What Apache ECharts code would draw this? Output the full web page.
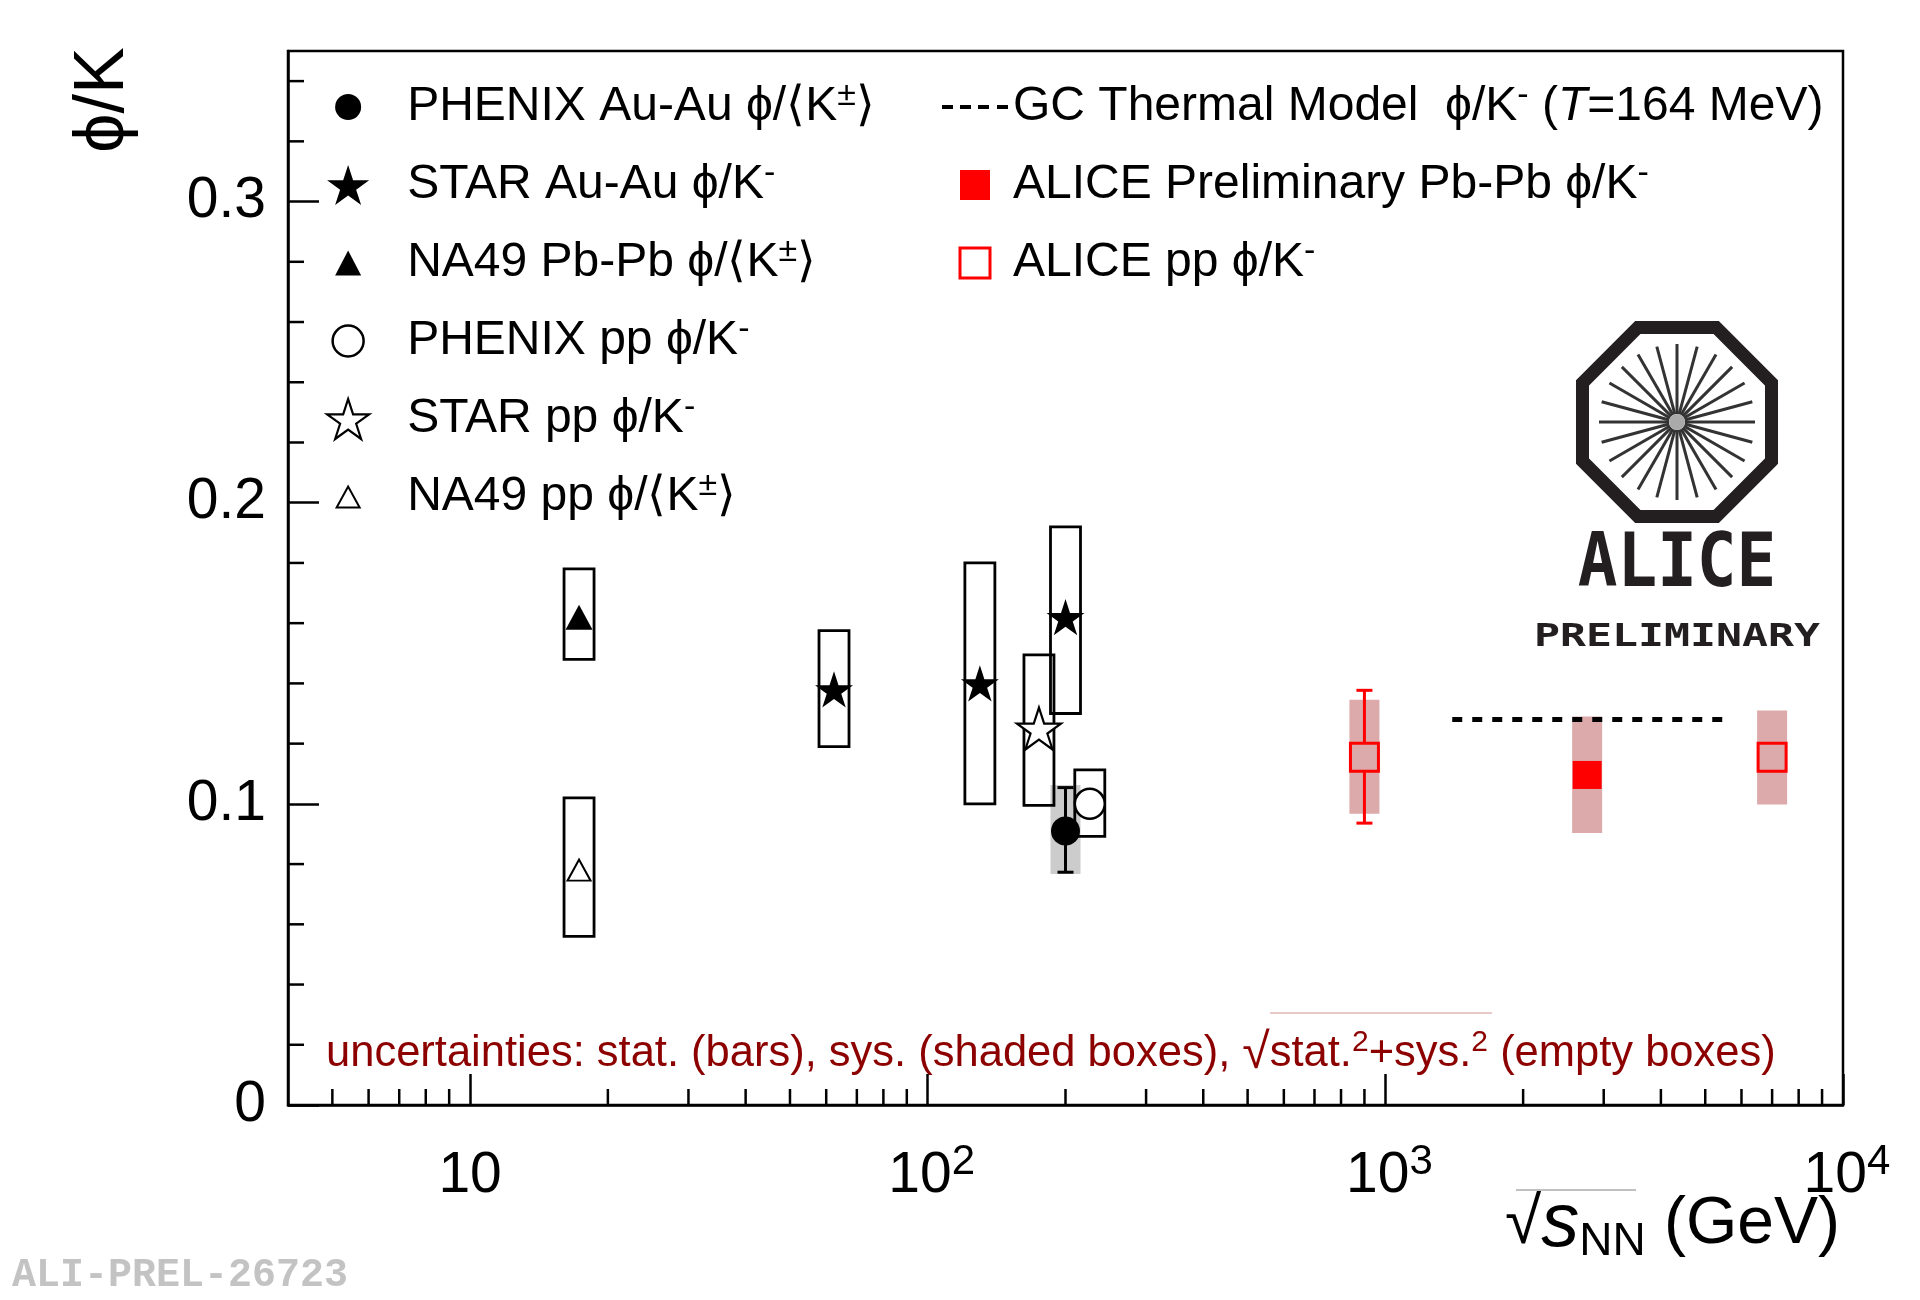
<!DOCTYPE html>
<html lang="en">
<head>
<meta charset="UTF-8">
<title>phi/K vs sqrt(s_NN)</title>
<script src="https://cdn.jsdelivr.net/npm/echarts@6.0.0/dist/echarts.min.js"></script>
<style>
    html, body { margin: 0; padding: 0; background: #fff; }
    #chart { width: 1920px; height: 1300px; }
</style>
</head>
<body>
<div id="chart"></div>
<script type="text/javascript">
    // values: x = sqrt(s_NN) in GeV, y = phi/K
    var na49PbPbX = [17.3];
    var na49PbPbY = [0.162];
    var na49PbPbSys = [[0.148, 0.178]];

    var na49ppX = [17.3];
    var na49ppY = [0.078];
    var na49ppSys = [[0.056, 0.102]];

    var starAuAuX = [62.4, 130, 200];
    var starAuAuY = [0.138, 0.140, 0.162];
    var starAuAuSys = [[0.119, 0.1575], [0.100, 0.180], [0.130, 0.192]];

    var starppX = [175];
    var starppY = [0.125];
    var starppSys = [[0.0995, 0.1495]];

    var phenixAuAuX = [200];
    var phenixAuAuY = [0.091];
    var phenixAuAuStat = [[0.0773, 0.1054]];
    var phenixAuAuSys = [[0.0767, 0.1063]];

    var phenixppX = [226];
    var phenixppY = [0.100];
    var phenixppSys = [[0.0892, 0.1113]];

    var alicePbPbX = [2760];
    var alicePbPbY = [0.1096];
    var alicePbPbSys = [[0.0903, 0.129]];

    var aliceppX = [900, 7000];
    var aliceppY = [0.1155, 0.1155];
    var aliceppSys = [[0.0967, 0.1346], [0.0998, 0.131]];
    var aliceppStatX = [900];
    var aliceppStatY = [0.1155];
    var aliceppStat = [[0.0936, 0.1377]];

    var thermalX = [1400, 5500];
    var thermalY = [0.128, 0.128];

    // minor tick positions
    var xMinorTicks = [5, 6, 7, 8, 9, 20, 30, 40, 50, 60, 70, 80, 90,
        200, 300, 400, 500, 600, 700, 800, 900, 2000, 3000, 4000, 5000, 6000, 7000, 8000, 9000];
    var yMinorTicks = [0.02, 0.04, 0.06, 0.08, 0.12, 0.14, 0.16, 0.18,
        0.22, 0.24, 0.26, 0.28, 0.32, 0.34];

    var FONT = '"Liberation Sans", Arial, Helvetica, sans-serif';
    var STAR = 'path://M50,0L61.23,34.55L97.55,34.55L68.16,55.9L79.39,90.45L50,69.1L20.61,90.45L31.84,55.9L2.45,34.55L38.77,34.55Z';
    var DASH = 'path://M0,0h11v4h-11zM18,0h11v4h-11zM36,0h11v4h-11zM55,0h11v4h-11z';
    // legend icons drawn inside a 40x40 box so they keep their own size
    var ICON_DOT = 'path://M0,0M40,40M7,20A13,13 0 1,1 33,20A13,13 0 1,1 7,20Z';
    var ICON_RING = 'path://M0,0M40,40M4.5,20A15.5,15.5 0 1,1 35.5,20A15.5,15.5 0 1,1 4.5,20Z';
    var ICON_TRI = 'path://M0,0M40,40M7,32.5L20,7.5L33,32.5Z';
    var ICON_TRI_SMALL = 'path://M0,0M40,40M8.5,30.5L20,9.5L31.5,30.5Z';
    var ICON_SQ = 'path://M0,0h28v28h-28z';

    function pts(xs, ys) {
        return xs.map(function (x, i) { return [x, ys[i]]; });
    }
    function boxes(xs, ranges) {
        return xs.map(function (x, i) { return [x, ranges[i][0], ranges[i][1]]; });
    }
    function bars(xs, ys, ranges) {
        return xs.map(function (x, i) { return [x, ys[i], ranges[i][0], ranges[i][1]]; });
    }

    function boxRender(fill, stroke, lw) {
        return function (params, api) {
            var top = api.coord([api.value(0), api.value(2)]);
            var bot = api.coord([api.value(0), api.value(1)]);
            return {
                type: 'rect',
                shape: {x: top[0] - 15, y: top[1], width: 30, height: bot[1] - top[1]},
                style: {fill: fill, stroke: stroke, lineWidth: lw}
            };
        };
    }
    function errRender(color, gap) {
        return function (params, api) {
            var c = api.coord([api.value(0), api.value(1)]);
            var lo = api.coord([api.value(0), api.value(2)]);
            var hi = api.coord([api.value(0), api.value(3)]);
            var st = {stroke: color, lineWidth: 3};
            return {
                type: 'group', children: [
                    {type: 'line', shape: {x1: c[0], y1: hi[1], x2: c[0], y2: c[1] - gap}, style: st},
                    {type: 'line', shape: {x1: c[0], y1: c[1] + gap, x2: c[0], y2: lo[1]}, style: st},
                    {type: 'line', shape: {x1: c[0] - 8, y1: hi[1], x2: c[0] + 8, y2: hi[1]}, style: st},
                    {type: 'line', shape: {x1: c[0] - 8, y1: lo[1], x2: c[0] + 8, y2: lo[1]}, style: st}
                ]
            };
        };
    }

    var legendLabels = {
        'PHENIX Au-Au': 'PHENIX Au-Au ϕ/⟨K{sup|±}⟩',
        'STAR Au-Au': 'STAR Au-Au ϕ/K{sup|-}',
        'NA49 Pb-Pb': 'NA49 Pb-Pb ϕ/⟨K{sup|±}⟩',
        'PHENIX pp': 'PHENIX pp ϕ/K{sup|-}',
        'STAR pp': 'STAR pp ϕ/K{sup|-}',
        'NA49 pp': 'NA49 pp ϕ/⟨K{sup|±}⟩',
        'GC Thermal Model': 'GC Thermal Model  ϕ/K{sup|-} ({it|T}=164 MeV)',
        'ALICE Preliminary Pb-Pb': 'ALICE Preliminary Pb-Pb ϕ/K{sup|-}',
        'ALICE pp': 'ALICE pp ϕ/K{sup|-}'
    };
    var legendText = {
        fontSize: 48, fontFamily: FONT, color: '#000', lineHeight: 56,
        rich: {
            sup: {fontSize: 34, fontFamily: FONT, color: '#000', lineHeight: 20, verticalAlign: 'top'},
            it: {fontSize: 48, fontFamily: FONT, color: '#000', lineHeight: 56, fontStyle: 'italic'}
        }
    };

    // ALICE logo (decoration)
    var octagon = [];
    for (var k = 0; k < 8; k++) {
        var a = (22.5 + 45 * k) * Math.PI / 180;
        octagon.push([102.3 * Math.cos(a), 102.3 * Math.sin(a)]);
    }
    var logoParts = [{type: 'polygon', shape: {points: octagon}, style: {fill: 'none', stroke: '#231f20', lineWidth: 13}}];
    for (var s = 0; s < 24; s++) {
        var b = s * 15 * Math.PI / 180;
        logoParts.push({
            type: 'line',
            shape: {x1: 8 * Math.cos(b), y1: 8 * Math.sin(b), x2: 78 * Math.cos(b), y2: 78 * Math.sin(b)},
            style: {stroke: '#333', lineWidth: 3}
        });
    }
    logoParts.push({type: 'circle', shape: {cx: 0, cy: 0, r: 8}, style: {fill: '#aaa'}});

    var chart = echarts.init(document.getElementById('chart'));
    chart.setOption({
        animation: false,
        backgroundColor: '#fff',
        grid: {left: 288, right: 77, top: 51, bottom: 195, show: true, borderColor: '#000', borderWidth: 2.5, containLabel: false},
        xAxis: {
            type: 'log', logBase: 10, min: 4, max: 10000,
            axisLine: {show: true, lineStyle: {color: '#000', width: 2.5}},
            axisTick: {show: true, inside: true, length: 31, lineStyle: {color: '#000', width: 2.5}},
            splitLine: {show: false},
            axisLabel: {
                showMinLabel: false,
                margin: 36, fontSize: 57, fontFamily: FONT, color: '#000', lineHeight: 70,
                formatter: function (v) {
                    var e = Math.log10(v);
                    var r = Math.round(e);
                    if (Math.abs(e - r) > 1e-6) return '';
                    return r === 1 ? '10' : '{b|10}{sup|' + r + '}';
                },
                rich: {
                    b: {fontSize: 57, fontFamily: FONT, color: '#000', lineHeight: 70, padding: [0, 0, 0, 8]},
                    sup: {fontSize: 42, fontFamily: FONT, color: '#000', lineHeight: 22, verticalAlign: 'top'}
                }
            }
        },
        yAxis: {
            type: 'value', min: 0, max: 0.35, interval: 0.1,
            axisLine: {show: true, lineStyle: {color: '#000', width: 2.5}},
            axisTick: {show: true, inside: true, length: 31, lineStyle: {color: '#000', width: 2.5}},
            splitLine: {show: false},
            axisLabel: {
                showMaxLabel: false,
                margin: 22, fontSize: 57, fontFamily: FONT, color: '#000',
                formatter: function (v) { return v === 0 ? '0' : v.toFixed(1); }
            }
        },
        legend: [{
            orient: 'vertical', left: 326, top: 79, padding: 0,
            itemWidth: 108, itemHeight: 40, itemGap: 22, selectedMode: false,
            formatter: function (name) { return legendLabels[name]; },
            textStyle: legendText,
            data: [
                {name: 'PHENIX Au-Au', icon: ICON_DOT, itemStyle: {color: '#000', borderWidth: 0, opacity: 1}},
                {name: 'STAR Au-Au', icon: STAR, itemStyle: {color: '#000', borderWidth: 0, opacity: 1}},
                {name: 'NA49 Pb-Pb', icon: ICON_TRI, itemStyle: {color: '#000', borderWidth: 0, opacity: 1}},
                {name: 'PHENIX pp', icon: ICON_RING, itemStyle: {color: '#fff', borderColor: '#000', borderWidth: 2.5, opacity: 1}},
                {name: 'STAR pp', icon: STAR, itemStyle: {color: '#fff', borderColor: '#000', borderWidth: 2.2, opacity: 1}},
                {name: 'NA49 pp', icon: ICON_TRI_SMALL, itemStyle: {color: '#fff', borderColor: '#000', borderWidth: 2, opacity: 1}}
            ]
        }, {
            orient: 'vertical', left: 942, top: 79, padding: 0,
            itemWidth: 66, itemHeight: 30, itemGap: 22, selectedMode: false,
            formatter: function (name) { return legendLabels[name]; },
            textStyle: legendText,
            data: [
                {name: 'GC Thermal Model', icon: DASH, itemStyle: {color: '#000', borderWidth: 0, opacity: 1}},
                {name: 'ALICE Preliminary Pb-Pb', icon: ICON_SQ, itemStyle: {color: '#ff0000', borderWidth: 0, opacity: 1}},
                {name: 'ALICE pp', icon: ICON_SQ, itemStyle: {color: '#fff', borderColor: '#ff0000', borderWidth: 3, opacity: 1}}
            ]
        }],
        graphic: [
            {type: 'text', x: 104, y: 100, rotation: Math.PI / 2,
                style: {text: 'ϕ/K', fontSize: 70, fontFamily: FONT, fill: '#000', align: 'center', verticalAlign: 'middle'}},
            {type: 'text', x: 1840, y: 1225,
                style: {
                    text: '{sq|√}{s|s}{sub|NN}{g| (GeV)}', align: 'right', verticalAlign: 'middle',
                    rich: {
                        sq: {fontSize: 66, fontFamily: FONT, fill: '#000', lineHeight: 80},
                        s: {fontSize: 76, fontFamily: FONT, fontStyle: 'italic', fill: '#000', lineHeight: 80},
                        sub: {fontSize: 46, fontFamily: FONT, fill: '#000', lineHeight: 30, verticalAlign: 'bottom'},
                        g: {fontSize: 66, fontFamily: FONT, fill: '#000', lineHeight: 80}
                    }
                }},
            {type: 'line', shape: {x1: 1516, y1: 1190, x2: 1636, y2: 1190}, style: {stroke: '#c0c0c0', lineWidth: 2}},
            {type: 'text', x: 326, y: 1054,
                style: {
                    text: '{t|uncertainties: stat. (bars), sys. (shaded boxes), }{q|√}{t|stat.}{sup|2}{t|+sys.}{sup|2}{t| (empty boxes)}',
                    align: 'left', verticalAlign: 'middle',
                    rich: {
                        t: {fontSize: 43.5, fontFamily: FONT, fill: '#8c0000', lineHeight: 52},
                        q: {fontSize: 50, fontFamily: FONT, fill: '#8c0000', lineHeight: 52},
                        sup: {fontSize: 30, fontFamily: FONT, fill: '#8c0000', lineHeight: 22, verticalAlign: 'top'}
                    }
                }},
            {type: 'line', shape: {x1: 1270, y1: 1013, x2: 1492, y2: 1013}, style: {stroke: '#e8c8c8', lineWidth: 2}},
            {type: 'text', x: 12, y: 1276,
                style: {text: 'ALI-PREL-26723', fontSize: 40, fontWeight: 'bold', fontFamily: '"Liberation Mono", "Courier New", monospace',
                    fill: '#c3c3c3', align: 'left', verticalAlign: 'middle'}},
            {type: 'group', x: 1677, y: 422, children: logoParts},
            {type: 'text', x: 1677, y: 567, scaleY: 1.12,
                style: {text: 'ALICE', fontSize: 66, fontWeight: 'bold', fontFamily: '"DejaVu Sans Mono", monospace',
                    fill: '#231f20', align: 'center', verticalAlign: 'middle'}},
            {type: 'text', x: 1677, y: 638, scaleX: 1.08, scaleY: 0.78,
                style: {text: 'PRELIMINARY', fontSize: 40, fontWeight: 'bold', fontFamily: '"DejaVu Sans Mono", monospace',
                    fill: '#231f20', align: 'center', verticalAlign: 'middle'}}
        ],
        series: [
            // minor ticks
            {type: 'custom', silent: true, z: 3, data: xMinorTicks.map(function (v) { return [v, 0]; }),
                renderItem: function (params, api) {
                    var p = api.coord([api.value(0), api.value(1)]);
                    return {type: 'line', shape: {x1: p[0], y1: p[1], x2: p[0], y2: p[1] - 16}, style: {stroke: '#000', lineWidth: 2.5}};
                }},
            {type: 'custom', silent: true, z: 3, data: yMinorTicks.map(function (v) { return [4, v]; }),
                renderItem: function (params, api) {
                    var p = api.coord([api.value(0), api.value(1)]);
                    return {type: 'line', shape: {x1: p[0], y1: p[1], x2: p[0] + 16, y2: p[1]}, style: {stroke: '#000', lineWidth: 2.5}};
                }},
            // shaded systematic boxes
            {type: 'custom', silent: true, z: 2, data: boxes(phenixAuAuX, phenixAuAuSys),
                renderItem: boxRender('#cccccc', 'none', 0)},
            {type: 'custom', silent: true, z: 2,
                data: boxes(aliceppX, aliceppSys).concat(boxes(alicePbPbX, alicePbPbSys)),
                renderItem: boxRender('#dcaaaa', 'none', 0)},
            // empty boxes
            {type: 'custom', silent: true, z: 4,
                data: boxes(na49PbPbX, na49PbPbSys).concat(boxes(na49ppX, na49ppSys), boxes(starAuAuX, starAuAuSys),
                    boxes(starppX, starppSys), boxes(phenixppX, phenixppSys)),
                renderItem: boxRender('none', '#000', 2.8)},
            // statistical bars
            {type: 'custom', silent: true, z: 5, data: bars(phenixAuAuX, phenixAuAuY, phenixAuAuStat),
                renderItem: errRender('#000', 14)},
            {type: 'custom', silent: true, z: 5, data: bars(aliceppStatX, aliceppStatY, aliceppStat),
                renderItem: errRender('#ff0000', 15)},
            // markers
            {name: 'PHENIX Au-Au', type: 'scatter', z: 6, symbol: 'circle', symbolSize: 29,
                itemStyle: {color: '#000', opacity: 1}, data: pts(phenixAuAuX, phenixAuAuY)},
            {name: 'STAR Au-Au', type: 'scatter', z: 6, symbol: STAR, symbolSize: 38, symbolKeepAspect: true,
                itemStyle: {color: '#000', opacity: 1}, data: pts(starAuAuX, starAuAuY)},
            {name: 'NA49 Pb-Pb', type: 'scatter', z: 6, symbol: 'triangle', symbolSize: [27, 25],
                itemStyle: {color: '#000', opacity: 1}, data: pts(na49PbPbX, na49PbPbY)},
            {name: 'PHENIX pp', type: 'scatter', z: 6, symbol: 'circle', symbolSize: 30,
                itemStyle: {color: '#fff', borderColor: '#000', borderWidth: 2.5, opacity: 1}, data: pts(phenixppX, phenixppY)},
            {name: 'STAR pp', type: 'scatter', z: 6, symbol: STAR, symbolSize: 44, symbolKeepAspect: true,
                itemStyle: {color: '#fff', borderColor: '#000', borderWidth: 2.2, opacity: 1}, data: pts(starppX, starppY)},
            {name: 'NA49 pp', type: 'scatter', z: 6, symbol: 'triangle', symbolSize: [23, 21],
                itemStyle: {color: '#fff', borderColor: '#000', borderWidth: 2, opacity: 1}, data: pts(na49ppX, na49ppY)},
            {name: 'ALICE Preliminary Pb-Pb', type: 'scatter', z: 6, symbol: 'rect', symbolSize: [29, 28],
                itemStyle: {color: '#ff0000', opacity: 1}, data: pts(alicePbPbX, alicePbPbY)},
            {name: 'ALICE pp', type: 'scatter', z: 6, symbol: 'rect', symbolSize: 28,
                itemStyle: {color: 'rgba(0,0,0,0)', borderColor: '#ff0000', borderWidth: 3, opacity: 1}, data: pts(aliceppX, aliceppY)},
            {name: 'GC Thermal Model', type: 'line', z: 7, symbol: 'none', silent: true,
                itemStyle: {color: '#000'}, lineStyle: {color: '#000', width: 5, type: [10, 10]},
                data: pts(thermalX, thermalY)}
        ]
    });
</script>
</body>
</html>
